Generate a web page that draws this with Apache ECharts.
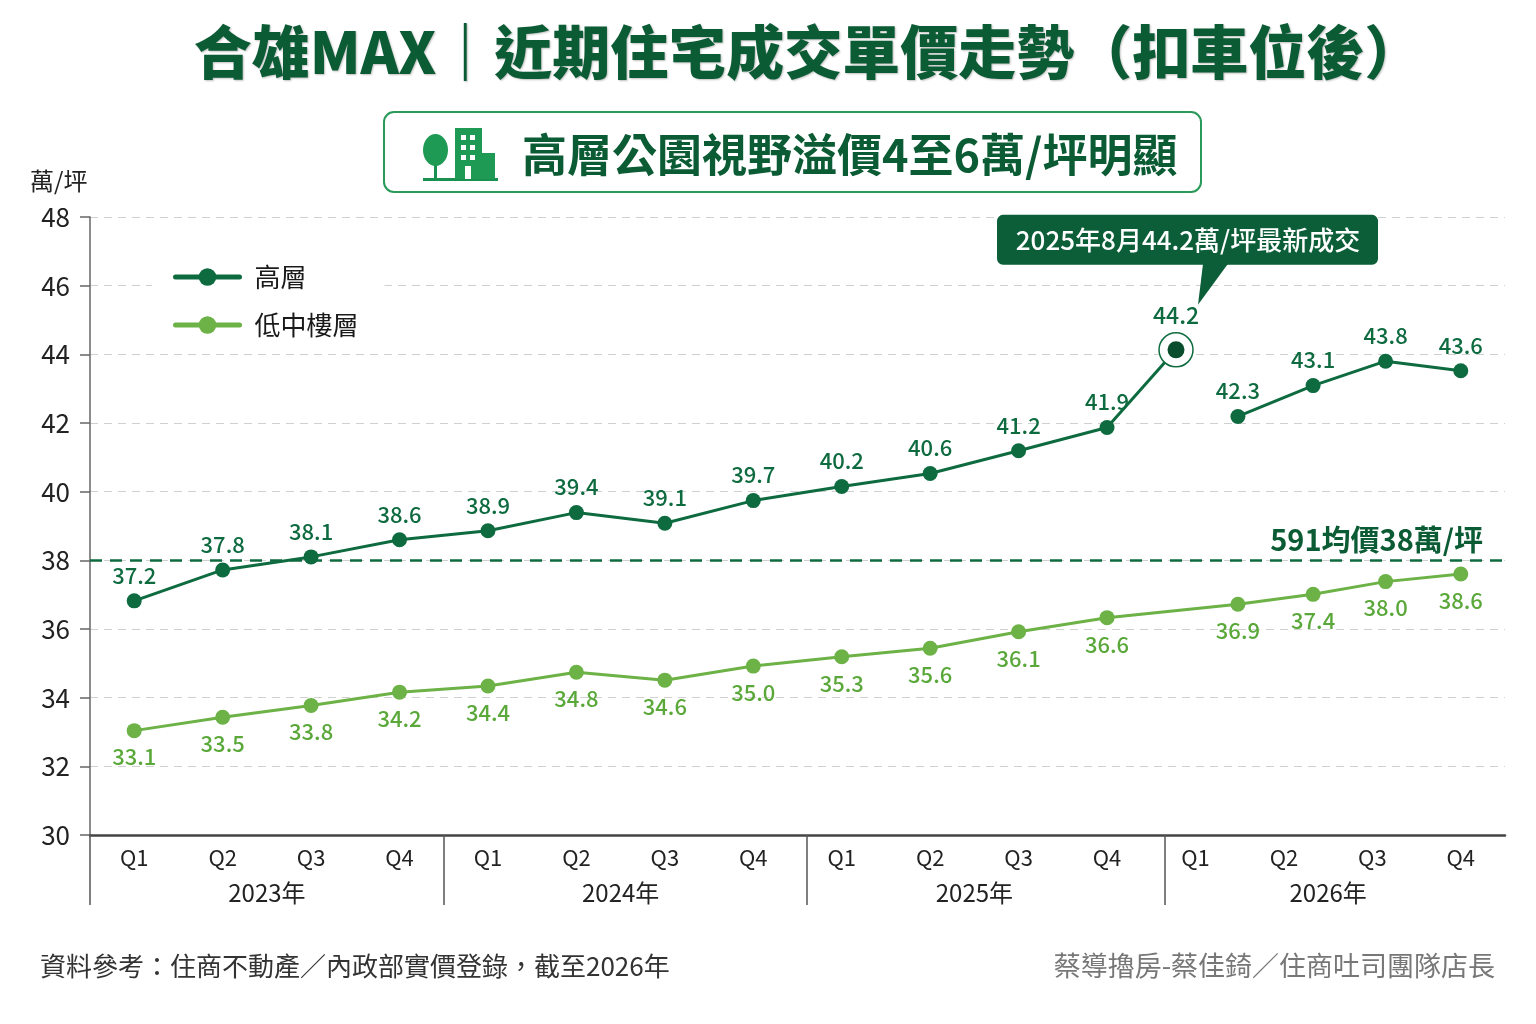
<!DOCTYPE html>
<html><head><meta charset="utf-8">
<script src="https://cdn.jsdelivr.net/npm/echarts@6/dist/echarts.min.js"></script>
<style>html,body{margin:0;padding:0;background:#fff}#chart{width:1536px;height:1024px}</style>
</head><body><div id="chart"></div>
<script>
// ---- data ----
const titleText = '合雄MAX｜近期住宅成交單價走勢（扣車位後）';
const subtitleText = '高層公園視野溢價4至6萬/坪明顯';
const unitText = '萬/坪';
const quarterLabels = ['Q1','Q2','Q3','Q4','Q1','Q2','Q3','Q4','Q1','Q2','Q3','Q4','Q1','Q2','Q3','Q4'];
const yearLabels = ['2023年','2024年','2025年','2026年'];
// time position of each quarter's point (as drawn)
const quarterPos = [0,1,2,3,4,5,6,7,8,9,10,11,12.48,13.33,14.15,15];
const highValues = [36.82,37.72,38.1,38.6,38.86,39.39,39.08,39.74,40.15,40.53,41.19,41.87,42.19,43.09,43.8,43.52];
const highLabels = ['37.2','37.8','38.1','38.6','38.9','39.4','39.1','39.7','40.2','40.6','41.2','41.9','42.3','43.1','43.8','43.6'];
const lowValues = [33.04,33.43,33.77,34.16,34.34,34.74,34.51,34.92,35.19,35.44,35.92,36.33,36.72,37.01,37.38,37.6];
const lowLabels = ['33.1','33.5','33.8','34.2','34.4','34.8','34.6','35.0','35.3','35.6','36.1','36.6','36.9','37.4','38.0','38.6'];
const peakPos = 11.78, peakValue = 44.13, peakLabel = '44.2';
const peakNote = '2025年8月44.2萬/坪最新成交';
const avgPrice = 38, avgLabel = '591均價38萬/坪';
const seriesNames = ['高層','低中樓層'];
const footerLeft = '資料參考：住商不動產／內政部實價登錄，截至2026年';
const footerRight = '蔡導擼房-蔡佳錡／住商吐司團隊店長';

// ---- styles ----
const FONT = "'Noto Sans CJK TC','Noto Sans',sans-serif";
const DARK = '#0e6b40';
const LIGHT = '#6cb246';
const TITLE = '#0b5b34';

const highA = highValues.slice(0, 12).map((v, i) => [quarterPos[i], v]);
highA.push({ value: [peakPos, peakValue], symbol: 'none', label: { show: false } });
const highB = highValues.slice(12).map((v, i) => [quarterPos[12 + i], v]);
const lowData = lowValues.map((v, i) => [quarterPos[i], v]);

function baseGraphics() {
  return [
    { type: 'text', x: 808, y: 52, style: { text: titleText, font: '900 58px ' + FONT, fill: TITLE,
      textAlign: 'center', textVerticalAlign: 'middle',
      textShadowColor: 'rgba(0,0,0,0.25)', textShadowBlur: 2, textShadowOffsetX: 1, textShadowOffsetY: 1 } },
    { type: 'rect', shape: { x: 384, y: 112, width: 817, height: 80, r: 10 },
      style: { fill: '#fff', stroke: '#2a9a5a', lineWidth: 2 } },
    // icon: tree + buildings
    { type: 'group', x: 423, y: 128, children: [
      { type: 'rect', shape: { x: 0, y: 50, width: 75, height: 3 }, style: { fill: '#1a9150' } },
      { type: 'rect', shape: { x: 11, y: 28, width: 3, height: 23 }, style: { fill: '#1a9150' } },
      { type: 'ellipse', shape: { cx: 12.5, cy: 22, rx: 12.5, ry: 16 }, style: { fill: '#1f9a55' } },
      { type: 'rect', shape: { x: 32, y: 0, width: 27, height: 51 }, style: { fill: '#1f9a55' } },
      { type: 'rect', shape: { x: 59, y: 25, width: 13, height: 26 }, style: { fill: '#1f9a55' } },
      { type: 'rect', shape: { x: 38, y: 7, width: 5, height: 5 }, style: { fill: '#fff' } },
      { type: 'rect', shape: { x: 47, y: 7, width: 5, height: 5 }, style: { fill: '#fff' } },
      { type: 'rect', shape: { x: 38, y: 17, width: 5, height: 5 }, style: { fill: '#fff' } },
      { type: 'rect', shape: { x: 47, y: 17, width: 5, height: 5 }, style: { fill: '#fff' } },
      { type: 'rect', shape: { x: 38, y: 27, width: 5, height: 5 }, style: { fill: '#fff' } },
      { type: 'rect', shape: { x: 47, y: 27, width: 5, height: 5 }, style: { fill: '#fff' } },
      { type: 'rect', shape: { x: 42, y: 38, width: 6, height: 13 }, style: { fill: '#fff' } }
    ] },
    { type: 'text', x: 522, y: 155, style: { text: subtitleText, font: 'bold 45px ' + FONT, fill: TITLE, textVerticalAlign: 'middle' } },
    { type: 'text', x: 30, y: 181, style: { text: unitText, font: '24px ' + FONT, fill: '#222', textVerticalAlign: 'middle' } },
    { type: 'text', x: 40, y: 966, style: { text: footerLeft, font: '26px ' + FONT, fill: '#333', textVerticalAlign: 'middle' } },
    { type: 'text', x: 1495, y: 966, style: { text: footerRight, font: '27px ' + FONT, fill: '#777', textAlign: 'right', textVerticalAlign: 'middle' } }
  ];
}

function calloutGraphics(p) {
  const px = p[0], py = p[1];
  return [
    { type: 'rect', shape: { x: px - 179, y: py - 135, width: 381, height: 50, r: 6 }, style: { fill: '#0b5e37' }, z: 10 },
    { type: 'polygon', shape: { points: [[px + 27, py - 86], [px + 52, py - 86], [px + 22, py - 45]] }, style: { fill: '#0b5e37' }, z: 10 },
    { type: 'text', x: px + 12, y: py - 110, z: 11, style: { text: peakNote, font: '500 26px ' + FONT, fill: '#fff', textAlign: 'center', textVerticalAlign: 'middle' } }
  ];
}

function makeOption(callout) {
  return {
    animation: false,
    backgroundColor: '#fff',
    textStyle: { fontFamily: FONT },
    grid: { left: 90, right: 31, top: 217, bottom: 189, containLabel: false },
    legend: {
      data: seriesNames, orient: 'vertical', left: 152, top: 252,
      padding: [12, 26, 12, 21], backgroundColor: '#fff',
      itemWidth: 64, itemHeight: 22, itemGap: 22, selectedMode: false,
      lineStyle: { width: 5, cap: 'round' },
      textStyle: { fontSize: 26, color: '#1a1a1a', padding: [0, 0, 0, 10] }
    },
    xAxis: [
      { type: 'value', min: -0.5, max: 15.5, position: 'bottom',
        axisLine: { show: true, onZero: false, lineStyle: { color: '#444', width: 2.5 } },
        axisTick: { show: true, customValues: [-0.5, 3.5, 7.6, 11.65], length: 70, lineStyle: { color: '#555', width: 1.5 } },
        axisLabel: { show: false }, splitLine: { show: false } },
      { type: 'category', data: quarterLabels, position: 'bottom',
        axisLine: { show: false }, axisTick: { show: false },
        axisLabel: { fontSize: 22, color: '#222', margin: 12 } },
      { type: 'category', data: yearLabels, position: 'bottom',
        axisLine: { show: false }, axisTick: { show: false },
        axisLabel: { fontSize: 24, color: '#222', margin: 46 } }
    ],
    yAxis: {
      type: 'value', min: 30, max: 48, interval: 2,
      axisLine: { show: true, onZero: false, lineStyle: { color: '#666', width: 1.5 } },
      axisTick: { show: true, length: 10, lineStyle: { color: '#666', width: 1.5 } },
      axisLabel: { fontSize: 26, color: '#222', margin: 20 },
      splitLine: { show: true, lineStyle: { color: '#d0d0d0', width: 1.2, type: [8, 6] } }
    },
    series: [
      { type: 'line', name: seriesNames[0], xAxisIndex: 0, data: highA, z: 3,
        symbol: 'circle', symbolSize: 15,
        lineStyle: { color: DARK, width: 3 }, itemStyle: { color: DARK },
        label: { show: true, position: 'top', distance: 7, fontSize: 22, fontWeight: 500, color: DARK,
          formatter: p => highLabels[p.dataIndex] || '' },
        markLine: { silent: true, symbol: 'none', z: 2,
          lineStyle: { color: DARK, width: 2.5, type: [12, 8] },
          label: { show: true, position: 'insideEndTop', formatter: avgLabel, fontSize: 29, fontWeight: 'bold', color: TITLE, distance: [22, 6] },
          data: [{ yAxis: avgPrice }] } },
      { type: 'line', name: seriesNames[0], xAxisIndex: 0, data: highB, z: 3,
        symbol: 'circle', symbolSize: 15,
        lineStyle: { color: DARK, width: 3 }, itemStyle: { color: DARK },
        label: { show: true, position: 'top', distance: 7, fontSize: 22, fontWeight: 500, color: DARK,
          formatter: p => highLabels[12 + p.dataIndex] } },
      { type: 'line', name: seriesNames[1], xAxisIndex: 0, data: lowData, z: 3,
        symbol: 'circle', symbolSize: 15,
        lineStyle: { color: LIGHT, width: 3 }, itemStyle: { color: LIGHT },
        label: { show: true, position: 'bottom', distance: 8, fontSize: 22, fontWeight: 500, color: '#5aa83a',
          formatter: p => lowLabels[p.dataIndex] } },
      { type: 'scatter', name: 'peakRing', xAxisIndex: 0, data: [[peakPos, peakValue]], z: 4,
        symbolSize: 34, itemStyle: { color: '#fff', opacity: 1, borderColor: DARK, borderWidth: 1.5 } },
      { type: 'scatter', name: 'peak', xAxisIndex: 0, data: [[peakPos, peakValue]], z: 5,
        symbolSize: 17, itemStyle: { color: '#0a4d2d', opacity: 1 },
        label: { show: true, position: 'top', distance: 15, fontSize: 23, fontWeight: 500, color: DARK, opacity: 1, formatter: peakLabel } }
    ],
    graphic: { elements: baseGraphics().concat(callout || []) }
  };
}

const chart = echarts.init(document.getElementById('chart'));
chart.setOption(makeOption(null));
const p = chart.convertToPixel({ xAxisIndex: 0, yAxisIndex: 0 }, [peakPos, peakValue]);
chart.setOption(makeOption(calloutGraphics(p)), true);
</script>
</body></html>
